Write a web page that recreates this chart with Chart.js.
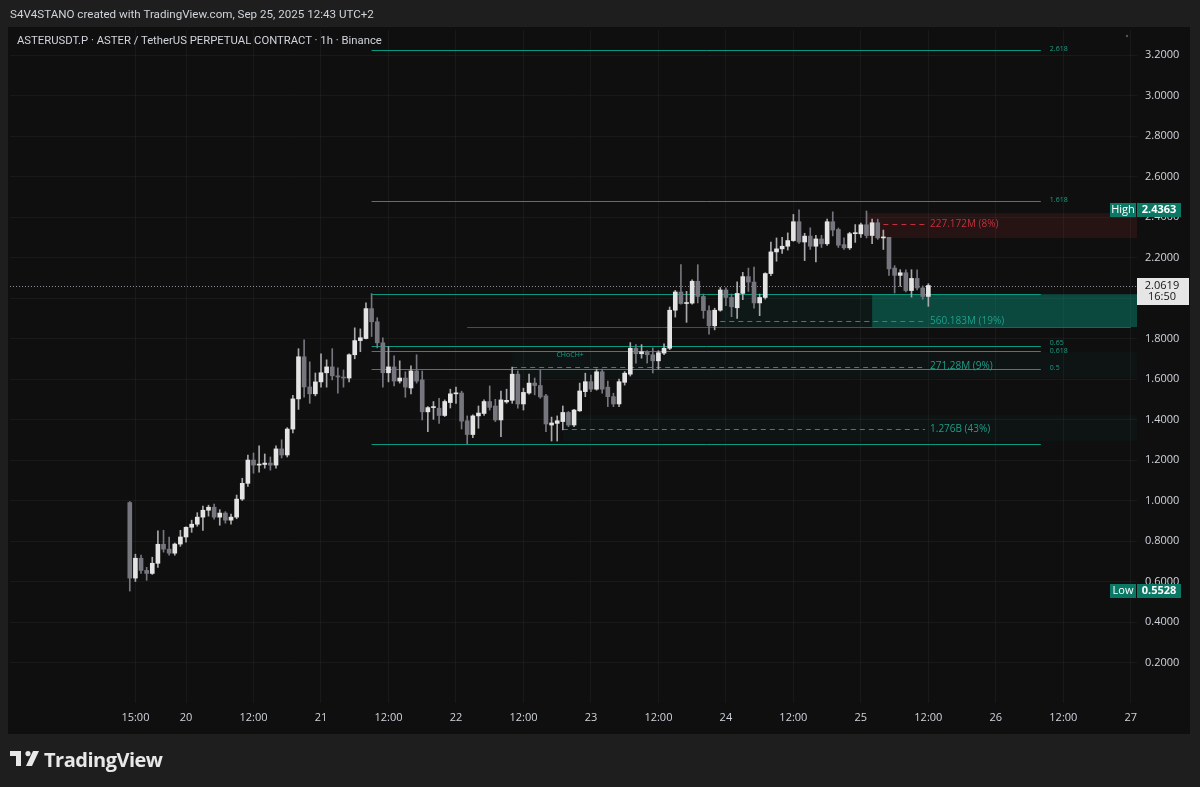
<!DOCTYPE html>
<html>
<head>
<meta charset="utf-8">
<script src="https://cdn.jsdelivr.net/npm/chart.js@4.4.1/dist/chart.umd.min.js"></script>
<style>
  html, body { margin:0; padding:0; background:#1e1e1e; width:1200px; height:787px; overflow:hidden; }
  #wrap { position:relative; width:1200px; height:787px; }
  canvas { position:absolute; left:0; top:0; }
  .hdr { position:absolute; left:10px; top:7px; font:11.6px Roboto, sans-serif; color:#d1d4dc; white-space:nowrap; }
  .ttl { position:absolute; left:17px; top:34px; font:11.3px Roboto, sans-serif; color:#d1d4dc; white-space:nowrap; }
  .foot { position:absolute; left:10px; top:745px; height:28px; display:flex; align-items:center; }
  .foot span { font:bold 20px "Open Sans", sans-serif; color:#e8e8e8; margin-left:4px; letter-spacing:-0.5px; }
</style>
</head>
<body>
<div id="wrap">
  <canvas id="c" width="1200" height="787"></canvas>
  <div class="hdr">S4V4STANO created with TradingView.com, Sep 25, 2025 12:43 UTC+2</div>
  <div class="ttl">ASTERUSDT.P · ASTER / TetherUS PERPETUAL CONTRACT · 1h · Binance</div>
  <div class="foot">
    <svg width="30" height="18" viewBox="0 0 30 18"><path d="M0 1h11v15H6V6H0z M18 1a2.6 2.6 0 1 1 0 5.2a2.6 2.6 0 1 1 0-5.2z M23 1h6l-7 15h-6z" fill="#e8e8e8"/></svg>
    <span>TradingView</span>
  </div>
</div>
<script>
// ---- data (hours relative to Sep 20 00:00, 1h candles from Sep 19 14:00) ----
const candleStartHour = -10;
const opens = [0.99,0.617,0.715,0.655,0.64,0.69,0.784,0.76,0.74,0.785,0.82,0.868,0.883,0.918,0.952,0.967,0.918,0.938,0.903,0.918,1.007,1.085,1.2,1.175,1.178,1.185,1.175,1.255,1.225,1.353,1.502,1.71,1.561,1.527,1.586,1.631,1.66,1.616,1.61,1.605,1.72,1.79,1.8,1.948,1.883,1.779,1.631,1.66,1.59,1.605,1.556,1.64,1.596,1.438,1.459,1.456,1.42,1.484,1.527,1.531,1.394,1.326,1.418,1.43,1.489,1.467,1.398,1.487,1.495,1.624,1.477,1.531,1.58,1.568,1.517,1.373,1.381,1.39,1.435,1.373,1.443,1.538,1.587,1.55,1.636,1.56,1.513,1.477,1.584,1.624,1.752,1.725,1.735,1.72,1.69,1.728,1.752,1.94,2.03,1.973,1.975,2.083,2.008,1.938,1.863,1.94,2.04,2.003,1.952,2.023,2.106,2.079,1.976,2.003,2.121,2.228,2.243,2.256,2.284,2.377,2.277,2.306,2.256,2.292,2.268,2.377,2.339,2.264,2.248,2.318,2.317,2.362,2.309,2.372,2.297,2.3,2.148,2.112,2.125,2.037,2.097,2.05,2.008];
const highs = [0.995,0.735,0.73,0.67,0.72,0.85,0.853,0.82,0.79,0.853,0.87,0.903,0.94,0.972,0.977,0.982,0.955,0.945,0.933,1.027,1.11,1.225,1.235,1.27,1.23,1.215,1.27,1.30,1.36,1.52,1.75,1.794,1.685,1.63,1.725,1.695,1.75,1.655,1.645,1.725,1.853,1.848,1.977,2.022,1.903,1.804,1.76,1.715,1.69,1.636,1.665,1.72,1.64,1.464,1.489,1.505,1.497,1.55,1.56,1.54,1.418,1.423,1.467,1.497,1.566,1.50,1.541,1.55,1.659,1.64,1.555,1.624,1.605,1.645,1.525,1.412,1.418,1.467,1.44,1.45,1.58,1.629,1.62,1.649,1.649,1.59,1.53,1.6,1.637,1.78,1.77,1.77,1.74,1.754,1.74,1.774,1.956,2.038,2.165,2.033,2.09,2.165,2.02,1.962,1.95,2.052,2.05,2.02,2.08,2.127,2.148,2.153,2.02,2.125,2.277,2.297,2.3,2.322,2.413,2.4363,2.32,2.347,2.31,2.31,2.39,2.426,2.346,2.297,2.325,2.363,2.37,2.43,2.39,2.39,2.336,2.3,2.16,2.14,2.14,2.14,2.14,2.06,2.071];
const lows = [0.5528,0.60,0.64,0.606,0.635,0.67,0.745,0.73,0.73,0.774,0.794,0.843,0.873,0.853,0.923,0.908,0.878,0.888,0.883,0.91,1.0,1.07,1.135,1.14,1.16,1.15,1.16,1.21,1.215,1.334,1.45,1.51,1.48,1.517,1.56,1.56,1.596,1.53,1.56,1.586,1.70,1.735,1.798,1.81,1.754,1.56,1.586,1.566,1.58,1.51,1.527,1.58,1.398,1.34,1.401,1.381,1.415,1.457,1.48,1.353,1.279,1.31,1.357,1.42,1.447,1.39,1.316,1.48,1.48,1.456,1.447,1.525,1.522,1.505,1.34,1.294,1.294,1.349,1.365,1.365,1.44,1.513,1.538,1.545,1.53,1.464,1.464,1.464,1.57,1.615,1.679,1.703,1.679,1.63,1.65,1.72,1.745,1.906,1.97,1.88,1.97,1.976,1.9,1.822,1.843,1.935,1.962,1.908,1.9,1.992,2.033,1.95,1.913,1.995,2.111,2.182,2.22,2.237,2.28,2.27,2.185,2.24,2.179,2.25,2.26,2.307,2.25,2.24,2.24,2.275,2.30,2.297,2.269,2.29,2.24,2.112,2.025,2.058,2.03,2.005,2.04,1.994,1.959];
const closes = [0.617,0.715,0.655,0.64,0.69,0.784,0.76,0.74,0.785,0.82,0.868,0.883,0.918,0.952,0.967,0.918,0.938,0.903,0.918,1.007,1.085,1.2,1.175,1.18,1.185,1.175,1.255,1.225,1.353,1.502,1.71,1.561,1.527,1.586,1.631,1.66,1.616,1.61,1.605,1.72,1.79,1.804,1.948,1.883,1.779,1.631,1.66,1.59,1.605,1.56,1.64,1.59,1.438,1.459,1.46,1.42,1.489,1.527,1.531,1.392,1.326,1.418,1.432,1.489,1.46,1.398,1.497,1.495,1.624,1.477,1.534,1.58,1.568,1.512,1.378,1.383,1.394,1.435,1.373,1.447,1.541,1.587,1.55,1.636,1.55,1.513,1.477,1.587,1.629,1.752,1.725,1.735,1.72,1.69,1.73,1.752,1.94,2.03,1.973,1.975,2.083,2.008,1.938,1.863,1.94,2.04,2.003,1.957,2.023,2.106,2.079,1.976,2.003,2.121,2.228,2.243,2.256,2.284,2.377,2.277,2.306,2.256,2.292,2.268,2.377,2.336,2.261,2.248,2.318,2.318,2.362,2.309,2.372,2.297,2.297,2.144,2.112,2.125,2.037,2.097,2.05,2.008,2.0619];

const timeTickHours  = [-9,0,12,24,36,48,60,72,84,96,108,120,132,144,156,168];
const timeTickLabels = ['15:00','20','12:00','21','12:00','22','12:00','23','12:00','24','12:00','25','12:00','26','12:00','27'];
const priceTicks = [0.2,0.4,0.6,0.8,1.0,1.2,1.4,1.6,1.8,2.0,2.2,2.4,2.6,2.8,3.0,3.2];

// Fibonacci extension
const fibLow = 1.279, fibHigh = 2.022;
const fibLevels = [0, 0.5, 0.618, 0.65, 1, 1.618, 2.618];
const fibLevelLabels = ['', '0.5', '0.618', '0.65', '', '1.618', '2.618'];
const fibFromHour = 33, fibToHour = 152;

// volume order blocks
const obLabels   = ['227.172M (8%)', '560.183M (19%)', '271.28M (9%)', '1.276B (43%)'];
const obTop      = [2.420, 2.019, 1.733, 1.422];
const obBottom   = [2.296, 1.857, 1.605, 1.293];
const obMid      = [2.366, 1.886, 1.662, 1.353];
const obFromHour = [124, 95, 58, 67];
const obBrightFrom = [121, 122, null, null];
const obKind     = ['bear', 'bull', 'bull', 'bull'];

const lastPrice = 2.0619, lastCountdown = '16:50';
const highPrice = 2.4363, lowPrice = 0.5528;
const chochLabel = 'CHoCH+', chochHour = 68.3, chochPrice = 1.721;
const volLineFromHour = 50, volLinePrice = 1.857;

// ---- chart ----
const UP = '#e4e4e4', DOWN = '#76767e', UPW = '#a9a9ad', DOWNW = '#76767e';
const TEAL = '#089981', TEALTXT = '#1f9e88', RED = '#c3303d';

const hours = closes.map((c, i) => candleStartHour + i);
const bodyData = hours.map((h, i) => ({ x: h, y: [opens[i], closes[i]] }));
const wickData = hours.map((h, i) => ({ x: h, y: [lows[i], highs[i]] }));
const isUp = i => closes[i] >= opens[i];

const bgPlugin = {
  id: 'bg',
  beforeDraw(chart) {
    const ctx = chart.ctx;
    ctx.save();
    ctx.fillStyle = '#1e1e1e';
    ctx.fillRect(0, 0, 1200, 787);
    ctx.fillStyle = '#0f0f0f';
    ctx.fillRect(8, 27, 1182, 707);
    ctx.restore();
  }
};

const overlayPlugin = {
  id: 'overlay',
  beforeDatasetsDraw(chart) {
    const { ctx, chartArea: a, scales: { x, y } } = chart;
    ctx.save();
    ctx.beginPath(); ctx.rect(a.left, a.top, a.right - a.left, a.bottom - a.top); ctx.clip();
    // order-block zones
    obLabels.forEach((lab, i) => {
      const yt = y.getPixelForValue(obTop[i]), yb = y.getPixelForValue(obBottom[i]);
      const x0 = x.getPixelForValue(obFromHour[i]);
      if (obKind[i] === 'bear') {
        ctx.fillStyle = 'rgba(242,54,69,0.10)';
        ctx.fillRect(x.getPixelForValue(obBrightFrom[i]), yt, a.right - x.getPixelForValue(obBrightFrom[i]), yb - yt);
      } else if (obBrightFrom[i] !== null) {
        const xb = x.getPixelForValue(obBrightFrom[i]);
        ctx.fillStyle = 'rgba(8,153,129,0.07)';
        ctx.fillRect(x0, yt, xb - x0, yb - yt);
        ctx.fillStyle = 'rgba(8,153,129,0.42)';
        ctx.fillRect(xb, yt, a.right - xb, yb - yt);
      } else {
        ctx.fillStyle = 'rgba(8,153,129,0.035)';
        ctx.fillRect(x0, yt, a.right - x0, yb - yt);
      }
    });
    // grey volume line
    ctx.strokeStyle = '#4a4c53'; ctx.lineWidth = 1;
    ctx.beginPath();
    const yv = Math.round(y.getPixelForValue(volLinePrice)) + 0.5;
    ctx.moveTo(x.getPixelForValue(volLineFromHour), yv); ctx.lineTo(x.getPixelForValue(168), yv); ctx.stroke();
    // fib lines
    ctx.strokeStyle = TEAL; ctx.lineWidth = 1;
    fibLevels.forEach(l => {
      const p = fibLow + (fibHigh - fibLow) * l;
      const yy = Math.round(y.getPixelForValue(p)) + 0.5;
      ctx.beginPath(); ctx.moveTo(x.getPixelForValue(fibFromHour), yy); ctx.lineTo(x.getPixelForValue(fibToHour), yy); ctx.stroke();
    });
    // dashed lines of order blocks
    ctx.setLineDash([5, 4]);
    obLabels.forEach((lab, i) => {
      const yy = Math.round(y.getPixelForValue(obMid[i])) + 0.5;
      ctx.strokeStyle = obKind[i] === 'bear' ? RED : TEAL;
      ctx.beginPath(); ctx.moveTo(x.getPixelForValue(obFromHour[i]), yy); ctx.lineTo(x.getPixelForValue(131.4), yy); ctx.stroke();
    });
    // current price dotted line
    ctx.setLineDash([1, 2]);
    ctx.strokeStyle = '#8a8d96';
    const yl = Math.round(y.getPixelForValue(lastPrice)) + 0.5;
    ctx.beginPath(); ctx.moveTo(a.left, yl); ctx.lineTo(a.right, yl); ctx.stroke();
    ctx.setLineDash([]);
    ctx.restore();
  },
  afterDatasetsDraw(chart) {
    const { ctx, scales: { x, y } } = chart;
    ctx.save();
    ctx.textBaseline = 'middle';
    // order block labels
    ctx.font = '10px "Open Sans", sans-serif';
    obLabels.forEach((lab, i) => {
      ctx.fillStyle = obKind[i] === 'bear' ? RED : TEALTXT;
      ctx.fillText(lab, x.getPixelForValue(132.3), y.getPixelForValue(obMid[i]));
    });
    // fib labels
    ctx.font = '7px "Open Sans", sans-serif';
    ctx.fillStyle = TEALTXT;
    fibLevels.forEach((l, i) => {
      if (!fibLevelLabels[i]) return;
      const p = fibLow + (fibHigh - fibLow) * l;
      let yy = y.getPixelForValue(p) - 1;
      if (l === 0.65) yy -= 2;
      if (l === 0.618) yy += 1;
      ctx.fillText(fibLevelLabels[i], x.getPixelForValue(153.6), yy);
    });
    // CHoCH label
    ctx.textAlign = 'center';
    ctx.fillText(chochLabel, x.getPixelForValue(chochHour), y.getPixelForValue(chochPrice));
    ctx.restore();
  },
  afterDraw(chart) {
    const { ctx, chartArea: a, scales: { y } } = chart;
    ctx.save();
    ctx.textBaseline = 'middle';
    const tag = (label, value, p) => {
      const yy = Math.round(y.getPixelForValue(p));
      ctx.fillStyle = '#0b7866';
      ctx.fillRect(a.right - 27, yy - 7, 26, 14);
      ctx.fillRect(a.right, yy - 7, 44, 14);
      ctx.fillStyle = '#ffffff';
      ctx.font = '11px "Open Sans", sans-serif';
      ctx.textAlign = 'center';
      ctx.fillText(label, a.right - 14, yy);
      ctx.font = 'bold 11px "Open Sans", sans-serif';
      ctx.fillText(value, a.right + 22, yy);
    };
    tag('High', highPrice.toFixed(4), highPrice);
    tag('Low', lowPrice.toFixed(4), lowPrice);
    // last price
    const yl = Math.round(y.getPixelForValue(lastPrice));
    ctx.fillStyle = '#e6e6e6';
    ctx.fillRect(a.right, yl - 8, 52, 27);
    ctx.fillStyle = '#131313';
    ctx.textAlign = 'center';
    ctx.font = '11px "Open Sans", sans-serif';
    ctx.fillText(lastPrice.toFixed(4), a.right + 25, yl);
    ctx.fillText(lastCountdown, a.right + 25, yl + 11);
    // tiny marker
    ctx.fillStyle = '#50535e';
    ctx.beginPath(); ctx.arc(1127, 36, 1.2, 0, Math.PI * 2); ctx.fill();
    ctx.restore();
  }
};

new Chart(document.getElementById('c'), {
  type: 'bar',
  data: {
    datasets: [
      {
        label: 'body', data: bodyData, order: 0, grouped: false,
        barThickness: 4, minBarLength: 1,
        backgroundColor: c => isUp(c.dataIndex) ? UP : DOWN,
        borderWidth: 0
      },
      {
        label: 'wick', data: wickData, order: 1, grouped: false,
        barThickness: 1,
        backgroundColor: c => isUp(c.dataIndex) ? UPW : DOWNW,
        borderWidth: 0
      }
    ]
  },
  options: {
    responsive: false,
    animation: false,
    devicePixelRatio: 1,
    layout: { padding: { left: 10, right: 10, top: 30, bottom: 54 } },
    plugins: { legend: { display: false }, tooltip: { enabled: false }, title: { display: false } },
    scales: {
      x: {
        type: 'linear', min: -31.3, max: 169.1, offset: false,
        grid: { color: 'rgba(255,255,255,0.045)', drawTicks: false, offset: false },
        border: { display: false },
        afterBuildTicks: s => { s.ticks = timeTickHours.map(v => ({ value: v })); },
        afterFit: s => { s.height = 30; },
        ticks: {
          autoSkip: false, maxRotation: 0, padding: 8, color: '#d1d4dc',
          font: { family: '"Open Sans", sans-serif', size: 11 },
          callback: (v, i) => timeTickLabels[i]
        }
      },
      y: {
        type: 'linear', position: 'right', min: 0, max: 3.324,
        grid: { color: 'rgba(255,255,255,0.045)', drawTicks: false },
        border: { display: false },
        afterBuildTicks: s => { s.ticks = priceTicks.map(v => ({ value: v })); },
        afterFit: s => { s.width = 53; },
        ticks: {
          padding: 8, color: '#d1d4dc',
          font: { family: '"Open Sans", sans-serif', size: 11 },
          callback: v => Number(v).toFixed(4)
        }
      }
    }
  },
  plugins: [bgPlugin, overlayPlugin]
});
</script>
</body>
</html>
